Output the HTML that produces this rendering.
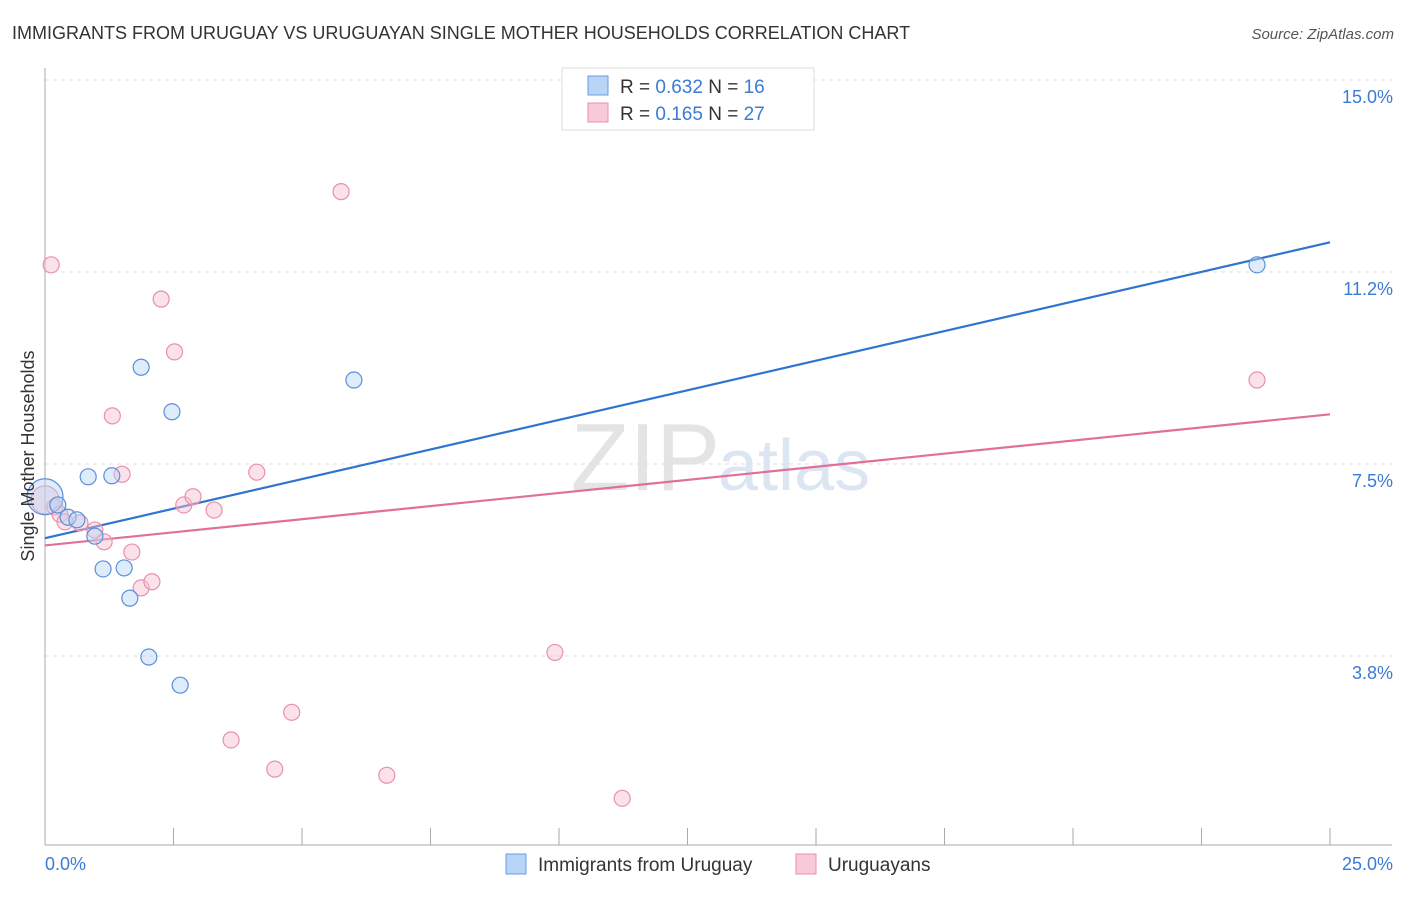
<!DOCTYPE html>
<html><head><meta charset="utf-8"><style>
body{margin:0;background:#fff;font-family:"Liberation Sans",sans-serif}
svg text{font-family:"Liberation Sans",sans-serif}
</style></head><body>
<svg id="c" width="1406" height="892">
<text x="12" y="39" font-size="18" fill="#333">IMMIGRANTS FROM URUGUAY VS URUGUAYAN SINGLE MOTHER HOUSEHOLDS CORRELATION CHART</text>
<text x="1394" y="39" font-size="15" fill="#555" text-anchor="end" font-style="italic">Source: ZipAtlas.com</text>
<text x="720" y="490" font-size="96" fill="#e4e4e4" text-anchor="end" font-family="Liberation Serif">ZIP</text>
<text x="718" y="490" font-size="72" fill="#dce6f2">atlas</text>
<g id="grid"></g><g id="axes"></g><g id="lines"></g><g id="pts"></g>
<text transform="translate(34,456) rotate(-90)" font-size="18" fill="#333" text-anchor="middle">Single Mother Households</text>
<g>
<rect x="562" y="68" width="252" height="62" fill="#fff" stroke="#ddd"/>
<rect x="588" y="76" width="20" height="19" fill="#b8d4f6" stroke="#6a9de0"/>
<text x="620" y="93" font-size="19" fill="#333">R = <tspan fill="#3a7bd5">0.632</tspan>   N = <tspan fill="#3a7bd5">16</tspan></text>
<rect x="588" y="103" width="20" height="19" fill="#f9c9d8" stroke="#e890ac"/>
<text x="620" y="120" font-size="19" fill="#333">R =  <tspan fill="#3a7bd5">0.165</tspan>   N = <tspan fill="#3a7bd5">27</tspan></text>
</g>
<g>
<rect x="506" y="854" width="20" height="20" fill="#b8d4f6" stroke="#6a9de0"/>
<text x="538" y="871" font-size="19" fill="#333">Immigrants from Uruguay</text>
<rect x="796" y="854" width="20" height="20" fill="#f9c9d8" stroke="#e890ac"/>
<text x="828" y="871" font-size="19" fill="#333">Uruguayans</text>
</g>
</svg>
<script>
const yTicks=[15.0,11.25,7.5,3.75];
const yTickLabels=["15.0%","11.2%","7.5%","3.8%"];
const xTickLabels=["0.0%","25.0%"];
const blueX=[0,0.25,0.45,0.62,0.84,0.97,1.13,1.30,1.54,1.65,1.87,2.02,2.47,2.63,6.01,23.58];
const blueY=[6.86,6.70,6.46,6.41,7.25,6.09,5.45,7.27,5.47,4.88,9.39,3.73,8.52,3.18,9.14,11.39];
const blueR=[18,8,8,8,8,8,8,8,8,8,8,8,8,8,8,8];
const pinkX=[0,0.19,0.29,0.39,0.68,0.97,1.15,1.31,1.50,1.69,1.87,2.08,2.26,2.52,2.70,2.88,3.29,3.62,4.12,4.47,4.80,5.76,6.65,9.92,11.23,23.58,0.12];
const pinkY=[6.80,6.66,6.52,6.37,6.35,6.21,5.98,8.44,7.30,5.78,5.08,5.20,10.72,9.69,6.70,6.86,6.60,2.11,7.34,1.54,2.65,12.82,1.42,3.82,0.97,9.14,11.39];
const pinkR=[14,8,8,8,8,8,8,8,8,8,8,8,8,8,8,8,8,8,8,8,8,8,8,8,8,8,8];
const blueLine=[[0,6.05],[25,11.83]];
const pinkLine=[[0,5.91],[25,8.47]];
const X=v=>45+v*51.4, Y=v=>80+(15-v)*51.2;
const NS="http://www.w3.org/2000/svg";
function mk(p,t,a){const e=document.createElementNS(NS,t);for(const k in a)e.setAttribute(k,a[k]);document.getElementById(p).appendChild(e);return e;}
yTicks.forEach((t,i)=>{
 const g=mk('grid','line',{x1:45,x2:1392,y1:Y(t),y2:Y(t),stroke:'#ddd','stroke-dasharray':'4,4'});
 
 
 const l=mk('grid','text',{x:1393,y:Y(t)+23,'font-size':18,fill:'#3a7bd5','text-anchor':'end'});
 l.textContent=yTickLabels[i];
 
 
});
const ax=mk('axes','line',{x1:45,x2:45,y1:68,y2:845,stroke:'#aaa'});


const bx=mk('axes','line',{x1:45,x2:1392,y1:845,y2:845,stroke:'#aaa'});


for(let i=0;i<=10;i++){const t=mk('axes','line',{x1:X(i*2.5),x2:X(i*2.5),y1:828,y2:845,stroke:'#aaa'});
 
 }
[[0,'start',45],[25,'end',1393]].forEach((d,i)=>{const t=mk('axes','text',{x:d[2],y:870,'font-size':18,fill:'#3a7bd5','text-anchor':d[1]});t.textContent=xTickLabels[i];
 
 });
function pts(xs,ys,rs,f,s,n){xs.forEach((x,i)=>{const c=mk('pts','circle',{cx:X(x),cy:Y(ys[i]),r:rs[i],fill:f,'fill-opacity':0.45,stroke:s,'stroke-width':1.2});
 
 });}
pts(pinkX,pinkY,pinkR,'#f7bfd0','#e890ac','uruguayans-point');
pts(blueX,blueY,blueR,'#b8d4f6','#5b8fd8','immigrants-point');
const bl=mk('lines','line',{x1:X(blueLine[0][0]),y1:Y(blueLine[0][1]),x2:X(blueLine[1][0]),y2:Y(blueLine[1][1]),stroke:'#2f74d0','stroke-width':2.2});


const pl=mk('lines','line',{x1:X(pinkLine[0][0]),y1:Y(pinkLine[0][1]),x2:X(pinkLine[1][0]),y2:Y(pinkLine[1][1]),stroke:'#e0709a','stroke-width':2.2});


</script>
</body></html>
